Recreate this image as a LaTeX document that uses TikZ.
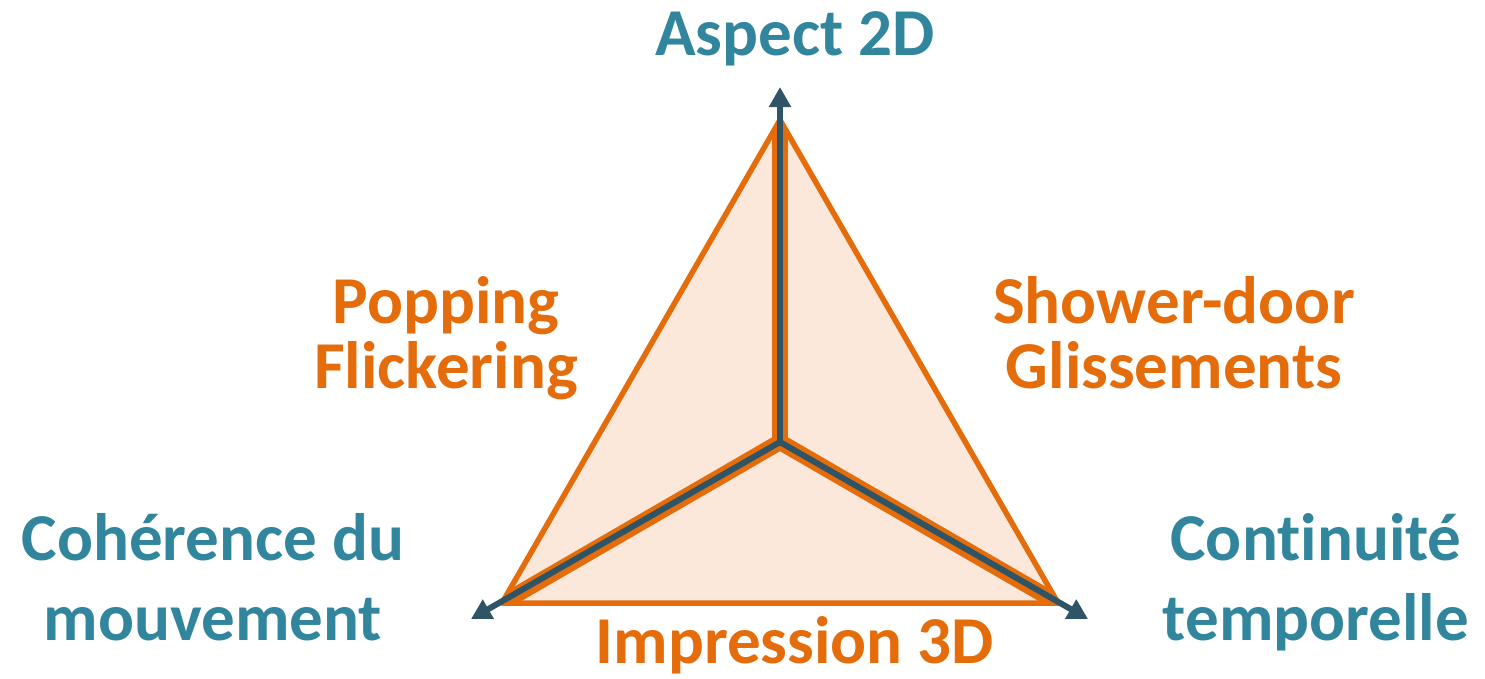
\documentclass[tikz,border=0pt]{standalone}
\usepackage{fontspec}
\setmainfont{Carlito}[Ligatures=NoCommon]
\usetikzlibrary{arrows.meta, positioning, calc}
\definecolor{tealtext}{RGB}{49,133,156}
\definecolor{orangeline}{RGB}{228,108,10}
\definecolor{orangefill}{RGB}{251,232,218}
\definecolor{axiscolor}{RGB}{47,84,102}
\tikzset{
  crit/.style = {font={\fontsize{67}{80}\selectfont\bfseries}, text=tealtext,
                 align=center, inner sep=0pt, anchor=base},
  flaw/.style = {font={\fontsize{67}{65}\selectfont\bfseries}, text=orangeline,
                 align=center, inner sep=0pt, anchor=base},
  axis/.style = {-{Triangle[length=20pt,width=21pt]}, line width=6pt,
                 line cap=round, color=axiscolor},
  band/.style = {line width=16pt, line cap=round, color=orangeline},
  rim/.style  = {line width=5.5pt, line join=round, color=orangeline},
}

\begin{document}
\begin{tikzpicture}[x=1pt, y=-1pt]
  \useasboundingbox (0,0) rectangle (1485,678);
  % centre, corners of the triangle and ends of the axes
  \coordinate (o) at (780,442);
  \coordinate (t) at (780,120);
  \coordinate (l) at (502,603);
  \coordinate (r) at (1058,603);
  \coordinate (tip t) at (780,87);
  \coordinate (tip l) at (471,619);
  \coordinate (tip r) at (1088,619);

  \fill[orangefill] (t) -- (l) -- (r) -- cycle;
  \begin{scope}
    \clip (t) -- (l) -- (r) -- cycle;
    \foreach \v in {t,l,r} {
      \draw[band] (o) -- (\v);
    }
  \end{scope}
  \draw[rim] (t) -- (l) -- (r) -- cycle;
  \foreach \v in {t,l,r} {
    \draw[axis] (o) -- (tip \v);
  }

  % labels (base = last line)
  \node[crit] (aspect) at (795,55) {Aspect 2D};
  \node[crit] (coherence) at (213,640) {Cohérence du\\mouvement};
  \node[crit] (continuite) at (1316,640) {Cont\kern0pt inuité\\temporelle};
  \node[flaw] (popping) at (446,388) {Popping\\Flickering};
  \node[flaw] (shower) at (1174,388) {Shower-door\\Glissements};
  \node[flaw] (impression) at (795,663) {Impression 3D};
\end{tikzpicture}
\end{document}
